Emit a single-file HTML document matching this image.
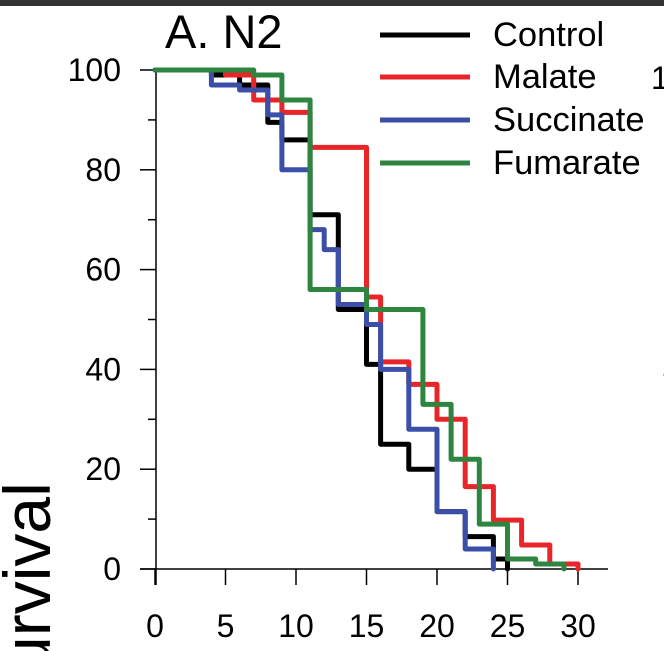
<!DOCTYPE html>
<html><head><meta charset="utf-8">
<style>
html,body{margin:0;padding:0;background:#fff;overflow:hidden;width:664px;height:651px;}
svg{display:block;font-family:"Liberation Sans",Arial,sans-serif;overflow:hidden;}
</style></head>
<body>
<svg id="chart" width="664" height="651" viewBox="0 0 664 651">
  <rect x="0" y="0" width="664" height="6" fill="#333"/>
  <text x="165" y="48" font-size="47" fill="#000">A. N2</text>
  <text transform="translate(50,717) rotate(-90)" font-size="66" fill="#000">Survival</text>
  <g id="axes"></g>
  <g id="series"></g>
  <g id="legend"></g>
  <g id="ghost"></g>
</svg>
<script>
const xTicks = [0,5,10,15,20,25,30];
const yTicks = [0,20,40,60,80,100];
const yMinorTicks = [10,30,50,70,90];
const seriesNames = ["Control","Malate","Succinate","Fumarate"];
const seriesColors = ["#000000","#e8262a","#3b4fa8","#2e8540"];
// step data: times where value changes, and value after that time
const controlT = [0,4,6,8,9,11,13,15,16,18,20,22,24,25];
const controlV = [100,99,97,89.5,86,71,52,41,25,20,11.5,6.5,2,0];
const malateT = [0,5,7,9,11,15,16,18,20,22,24,26,28,30];
const malateV = [100,99,94,91.5,84.5,54.5,41.5,37,30,16.5,9.8,4.8,1,0];
const succinateT = [0,4,6,8,9,11,12,13,15,16,18,20,22,24];
const succinateV = [100,97,96,91,80,68,64,53,49,40,28,11.5,4,0];
const fumarateT = [0,7,9,11,15,19,21,23,25,27,29];
const fumarateV = [100,99,94,56,52,33,22,9,2,1,0];

const NS="http://www.w3.org/2000/svg";
const xs = t => 155 + t*14.1;
const ys = v => 569 - v*4.99;
function mk(tag, attrs, parent){const e=document.createElementNS(NS,tag);for(const k in attrs)e.setAttribute(k,attrs[k]);parent.appendChild(e);return e;}

const axes=document.getElementById('axes');
let a=mk('line',{x1:156,y1:68,x2:156,y2:585,stroke:'#000','stroke-width':1.5},axes);


a=mk('line',{x1:140,y1:569,x2:608,y2:569,stroke:'#000','stroke-width':1.5},axes);


yTicks.forEach(v=>{
  const l=mk('line',{x1:140,y1:ys(v),x2:156,y2:ys(v),stroke:'#000','stroke-width':1.5},axes);
  
  
  const t=mk('text',{x:121,y:ys(v)+11,'font-size':32,'text-anchor':'end',fill:'#000'},axes);
  t.textContent=v;
  
  
});
yMinorTicks.forEach(v=>{
  const l=mk('line',{x1:148,y1:ys(v),x2:156,y2:ys(v),stroke:'#000','stroke-width':1.5},axes);
  
  
});
xTicks.forEach(v=>{
  const l=mk('line',{x1:xs(v),y1:569,x2:xs(v),y2:585,stroke:'#000','stroke-width':1.5},axes);
  
  
  const t=mk('text',{x:xs(v),y:637,'font-size':32,'text-anchor':'middle',fill:'#000'},axes);
  t.textContent=v;
  
  
});

const seriesT=[controlT,malateT,succinateT,fumarateT];
const seriesV=[controlV,malateV,succinateV,fumarateV];
const sg=document.getElementById('series');
seriesT.forEach((T,i)=>{
  const V=seriesV[i];
  let d='M'+xs(T[0])+' '+ys(V[0]);
  for(let k=1;k<T.length;k++){d+=' H'+xs(T[k])+' V'+ys(V[k]);}
  const p=mk('path',{d:d,fill:'none',stroke:seriesColors[i],'stroke-width':5,'stroke-linejoin':'round','stroke-linecap':'round'},sg);
  
  
});

const lg=document.getElementById('legend');
const legY=[35,77,120,163];
seriesNames.forEach((n,i)=>{
  const l=mk('line',{x1:380,y1:legY[i],x2:470,y2:legY[i],stroke:seriesColors[i],'stroke-width':5},lg);
  
  
  const t=mk('text',{x:493,y:legY[i]+11,'font-size':34.5,fill:'#000'},lg);
  t.textContent=n;
  
  
});

const gg=document.getElementById('ghost');
[[651,89,'100'],[663,180,'80'],[663,281,'60'],[663,381,'40'],[663,481,'20']].forEach(r=>{
  const t=mk('text',{x:r[0],y:r[1],'font-size':32,fill:'#000'},gg);
  t.textContent=r[2];
  
  
});
</script>
</body></html>
